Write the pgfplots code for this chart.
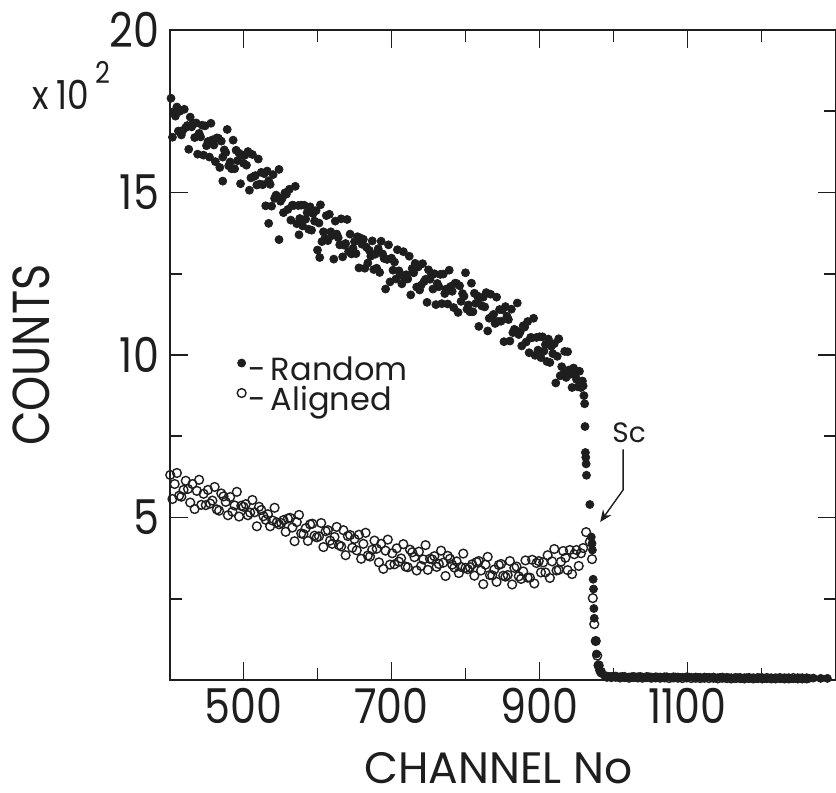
\documentclass[border=0pt]{standalone}
\usepackage{fontspec}
\setmainfont{Poppins}[FakeStretch=0.86]
\newfontfamily\widefont{Poppins}
\usepackage{pgfplots}
\pgfplotsset{compat=1.18}
\usetikzlibrary{arrows.meta}
\definecolor{ink}{HTML}{1E1E1E}

\begin{document}
\begin{tikzpicture}
\begin{axis}[
  name=ax,
  scale only axis,
  width=333pt,height=325pt,
  xmin=400,xmax=1300,ymin=0,ymax=20,
  axis line style={ink,line width=1pt},
  xtick={500,700,900,1100},xticklabels={500,700,900,1100},
  minor xtick={600,800,1000,1200},
  ytick={5,10,15,20},yticklabels={5,10,15,20},
  minor ytick={2.5,7.5,12.5,17.5},
  tick align=inside,
  major tick length=9pt,minor tick length=6pt,
  tick style={ink,line width=0.9pt},
  every tick label/.append style={font=\fontsize{24}{24}\selectfont,text=ink},
  xticklabel style={anchor=north,inner sep=0pt,yshift=-4pt},
  yticklabel style={anchor=east,inner sep=0pt,xshift=-5pt},
  xlabel={CHANNEL No},
  ylabel={COUNTS},
  xlabel style={font=\widefont\fontsize{22}{22}\selectfont,text=ink,at={(axis description cs:0.5,0)},anchor=north,inner sep=0pt,yshift=-36pt,xshift=-2pt},
  ylabel style={font=\fontsize{26}{26}\selectfont,text=ink,at={(axis description cs:0,0.5)},anchor=south,inner sep=0pt,yshift=59.75pt},
  clip=false,
  legend style={at={(axis cs:491,9.95)},anchor=north west,draw=none,fill=none,
    font=\widefont\fontsize{16}{16}\selectfont,text=ink,inner sep=0pt,row sep=0pt,
    nodes={inner sep=1pt,text height=10.5pt,text depth=2.5pt}},
  legend cell align=left,
  legend image code/.code={\draw[#1] plot coordinates {(0pt,4.5pt)};},
]
% random (filled)
\addplot[only marks,mark=*,mark size=2pt,ink,mark options={fill=ink,draw=ink}] coordinates {
(402,17.90) (404,16.70) (406,17.49) (408,17.35) (410,17.63) (412,16.89) (414,17.50) (416,16.77) (418,16.91) (420,17.56)
(422,17.00) (424,17.06) (426,16.33) (428,17.32) (430,17.02) (432,17.14) (434,16.69) (436,17.14) (438,16.18) (440,16.82)
(442,16.71) (444,17.07) (446,16.15) (448,17.05) (450,16.44) (452,16.57) (454,16.09) (456,17.13) (458,16.62) (460,16.46)
(462,15.95) (464,16.68) (466,16.67) (468,15.77) (470,16.58) (472,16.09) (474,16.31) (476,16.23) (478,16.94) (480,15.82)
(482,15.94) (484,15.73) (486,16.61) (488,15.73) (490,16.30) (492,15.98) (494,16.21) (496,15.27) (498,16.15) (500,15.90)
(502,16.15) (504,15.84) (506,16.26) (508,15.07) (510,15.45) (512,16.17) (514,15.49) (516,15.52) (518,15.23) (520,16.03)
(522,15.26) (524,15.62) (526,15.24) (528,15.58) (530,14.59) (532,15.66) (534,15.36) (536,15.25) (538,14.58) (540,15.55)
(542,14.82) (544,14.92) (546,14.87) (548,15.71) (550,14.73) (552,14.81) (554,14.38) (556,14.99) (558,14.95) (560,14.48)
(562,15.10) (564,14.15) (566,14.61) (568,14.60) (570,15.19) (572,14.04) (574,14.60) (576,14.20) (578,14.61) (580,13.97)
(582,14.61) (584,14.18) (586,14.38) (588,13.87) (590,14.56) (592,13.84) (594,14.35) (596,14.12) (598,14.44) (600,13.23)
(602,14.06) (604,14.62) (606,13.49) (608,13.79) (610,13.59) (612,14.29) (614,13.52) (616,14.33) (618,13.79) (620,13.68)
(622,12.95) (624,14.12) (626,13.72) (628,13.61) (630,13.39) (632,14.19) (634,13.02) (636,13.38) (638,13.43) (640,14.17)
(642,13.18) (644,13.72) (646,13.11) (648,13.28) (650,13.49) (652,13.12) (654,13.64) (656,12.68) (658,13.60) (660,13.41)
(662,13.56) (664,12.67) (666,13.32) (668,12.83) (670,13.22) (672,13.04) (674,13.51) (676,12.63) (678,13.10) (680,12.67)
(682,13.27) (684,12.54) (686,13.50) (688,13.11) (690,12.97) (692,12.03) (694,12.94) (696,13.39) (698,12.25) (700,12.98)
(702,12.61) (704,12.86) (706,12.34) (708,13.24) (710,12.59) (712,12.47) (714,12.19) (716,13.18) (718,12.33) (720,12.47)
(722,12.34) (724,13.04) (726,11.85) (728,12.66) (730,12.53) (732,12.82) (734,12.09) (736,12.71) (738,12.00) (740,12.15)
(742,12.81) (744,12.26) (746,12.33) (748,11.62) (750,12.62) (752,12.33) (754,12.46) (756,12.03) (758,12.50) (760,11.55)
(762,12.20) (764,12.10) (766,12.48) (768,11.58) (770,12.49) (772,11.89) (774,12.03) (776,11.57) (778,12.61) (780,12.11)
(782,11.96) (784,11.46) (786,12.21) (788,12.20) (790,11.31) (792,12.13) (794,11.65) (796,11.89) (798,11.81) (800,12.53)
(802,11.41) (804,11.54) (806,11.33) (808,12.21) (810,11.33) (812,11.90) (814,11.59) (816,11.82) (818,10.88) (820,11.76)
(822,11.51) (824,11.78) (826,11.48) (828,11.92) (830,10.74) (832,11.13) (834,11.87) (836,11.20) (838,11.25) (840,10.97)
(842,11.78) (844,11.03) (846,11.40) (848,11.04) (850,11.39) (852,10.41) (854,11.49) (856,11.19) (858,11.09) (860,10.43)
(862,11.41) (864,10.69) (866,10.79) (868,10.75) (870,11.60) (872,10.63) (874,10.72) (876,10.28) (878,10.90) (880,10.86)
(882,10.40) (884,11.03) (886,10.07) (888,10.54) (890,10.53) (892,11.13) (894,9.99) (896,10.54) (898,10.15) (900,10.56)
(902,9.92) (904,10.56) (906,10.12) (908,10.32) (910,9.80) (912,10.49) (914,9.77) (916,10.27) (918,10.04) (920,10.35)
(922,9.14) (924,9.96) (926,10.50) (928,9.36) (930,9.64) (932,9.42) (934,10.11) (936,9.31) (938,10.10) (940,9.54)
(942,9.41) (944,9.00) (946,9.60) (948,9.39) (950,9.25) (952,9.02) (954,9.50) (956,9.00) (958,9.20)
(534,14.05) (548,13.55) (603,13.0) (472,15.35) (575,13.7)
(959,9.05) (960,8.75) (961,8.5) (961.5,7.8) (962,7.0) (962.5,6.85) (963,6.65) (963.5,6.3) (968,5.4) (970,4.4)
(971,4.2) (971.5,4.0) (972.5,3.1) (973,2.8) (973.5,2.2) (974,1.9) (976,1.2) (977,0.8) (979,0.45) (981,0.3)
(984,0.2) (988,0.14) (994,0.11) (1000,0.12) (1006,0.09) (1012,0.11) (1018,0.08) (1024,0.1) (1030,0.09) (1036,0.11)
(1042,0.08) (1048,0.1) (1054,0.07) (1060,0.09) (1066,0.08) (1072,0.1) (1078,0.07) (1084,0.09) (1090,0.08) (1096,0.07)
(1102,0.09) (1108,0.07) (1114,0.08) (1120,0.06) (1126,0.08) (1132,0.07) (1138,0.06) (1144,0.08) (1150,0.06) (1156,0.07)
(1162,0.06) (1168,0.07) (1174,0.05) (1180,0.07) (1186,0.06) (1192,0.05) (1198,0.07) (1204,0.05) (1210,0.06) (1216,0.05)
(1222,0.06) (1228,0.05) (1234,0.06) (1240,0.05) (1246,0.05) (1252,0.06) (1258,0.05) (1264,0.05) (1270,0.06) (1280,0.05)
(1289,0.05)
};
\addlegendentry{-\thinspace Random}
% aligned (open)
\addplot[only marks,mark=o,mark size=2.2pt,ink,mark options={line width=0.7pt,draw=ink}] coordinates {
(401,6.31) (404,5.57) (407,6.03) (410,6.37) (413,5.67) (416,5.64) (419,5.85) (422,6.13) (425,5.88) (428,5.46)
(431,6.03) (434,5.26) (437,5.82) (440,6.16) (443,5.39) (446,5.73) (449,5.38) (452,5.85) (455,5.43) (458,5.52)
(461,5.94) (464,5.25) (467,5.21) (470,5.74) (473,5.65) (476,5.48) (479,5.07) (482,5.63) (485,5.18) (488,5.37)
(491,5.79) (494,5.03) (497,5.36) (500,5.33) (503,5.41) (506,5.07) (509,5.15) (512,5.54) (515,5.16) (518,4.73)
(521,5.33) (524,5.23) (527,5.04) (530,4.93) (533,5.10) (536,4.73) (539,4.91) (542,5.30) (545,4.85) (548,4.79)
(551,4.83) (554,4.92) (557,4.56) (560,4.97) (563,4.99) (566,4.69) (569,4.27) (572,4.86) (575,5.08) (578,4.51)
(581,4.49) (584,4.67) (587,4.28) (590,4.79) (593,4.81) (596,4.44) (599,4.39) (602,4.42) (605,4.83) (608,4.09)
(611,4.58) (614,4.61) (617,4.29) (620,4.19) (623,4.40) (626,4.71) (629,4.15) (632,4.11) (635,4.61) (638,3.84)
(641,4.43) (644,4.46) (647,4.07) (650,4.34) (653,3.99) (656,4.47) (659,3.73) (662,4.19) (665,4.53) (668,3.83)
(671,3.80) (674,4.01) (677,4.29) (680,4.04) (683,3.62) (686,4.19) (689,3.42) (692,3.98) (695,4.32) (698,3.55)
(701,3.90) (704,3.56) (707,4.05) (710,3.64) (713,3.74) (716,4.18) (719,3.49) (722,3.47) (725,4.01) (728,3.93)
(731,3.78) (734,3.37) (737,3.95) (740,3.51) (743,3.71) (746,4.15) (749,3.39) (752,3.73) (755,3.71) (758,3.81)
(761,3.48) (764,3.57) (767,3.98) (770,3.61) (773,3.20) (776,3.82) (779,3.73) (782,3.55) (785,3.46) (788,3.65)
(791,3.29) (794,3.48) (797,3.89) (800,3.45) (803,3.41) (806,3.47) (809,3.56) (812,3.21) (815,3.63) (818,3.66)
(821,3.37) (824,2.95) (827,3.55) (830,3.79) (833,3.23) (836,3.22) (839,3.40) (842,3.02) (845,3.54) (848,3.57)
(851,3.21) (854,3.18) (857,3.23) (860,3.66) (863,2.94) (866,3.45) (869,3.49) (872,3.19) (875,3.11) (878,3.34)
(881,3.68) (884,3.15) (887,3.15) (890,3.70) (893,2.97) (896,3.60) (899,3.66) (902,3.31) (905,3.62) (908,3.31)
(911,3.84) (914,3.14) (917,3.65) (920,4.03) (923,3.37) (926,3.39) (929,3.64) (932,3.97) (935,3.76) (938,3.38)
(941,4.00) (944,3.26) (947,3.87) (950,4.00) (953,3.51) (956,3.90)
(959,4.06) (963,4.55) (968,4.25) (971,3.72) (972,2.52) (974,1.72) (976,1.2) (978,0.75) (980,0.45) (983,0.25)
(991,0.1) (997,0.09) (1003,0.1) (1009,0.08) (1015,0.09) (1021,0.07) (1027,0.09) (1033,0.08) (1039,0.07) (1045,0.09)
(1051,0.07) (1057,0.08) (1063,0.07) (1069,0.08) (1075,0.06) (1081,0.08) (1087,0.07) (1093,0.06) (1099,0.08) (1105,0.06)
(1111,0.07) (1117,0.06) (1123,0.07) (1129,0.06) (1135,0.07) (1141,0.05) (1147,0.07) (1153,0.06) (1159,0.05) (1165,0.06)
(1171,0.06) (1177,0.05) (1183,0.06) (1189,0.05) (1195,0.06) (1201,0.05) (1207,0.06) (1213,0.05) (1219,0.05) (1225,0.06)
(1231,0.05) (1237,0.05) (1243,0.06) (1249,0.05) (1255,0.05) (1261,0.05)
};
\addlegendentry{-\thinspace Aligned}
% annotations
\node[anchor=base west,inner sep=0pt,font=\fontsize{20}{20}\selectfont,text=ink] at (axis cs:215,17.54)
  {x\,10\,\raisebox{13pt}{\fontsize{15}{15}\selectfont 2}};
\node[anchor=base west,inner sep=0pt,font=\widefont\fontsize{14}{14}\selectfont,text=ink] at (axis cs:998,7.32) {Sc};
\draw[ink,line width=0.7pt,-{Stealth[length=6pt,width=5pt]}]
  (axis cs:1013,7.1) -- (axis cs:1013,5.85) -- (axis cs:982,4.86);
\end{axis}
\pgfresetboundingbox
\path ([shift={(-84.75pt,-56pt)}]ax.south west) rectangle ([shift={(0.25pt,15pt)}]ax.north east);
\end{tikzpicture}
\end{document}
